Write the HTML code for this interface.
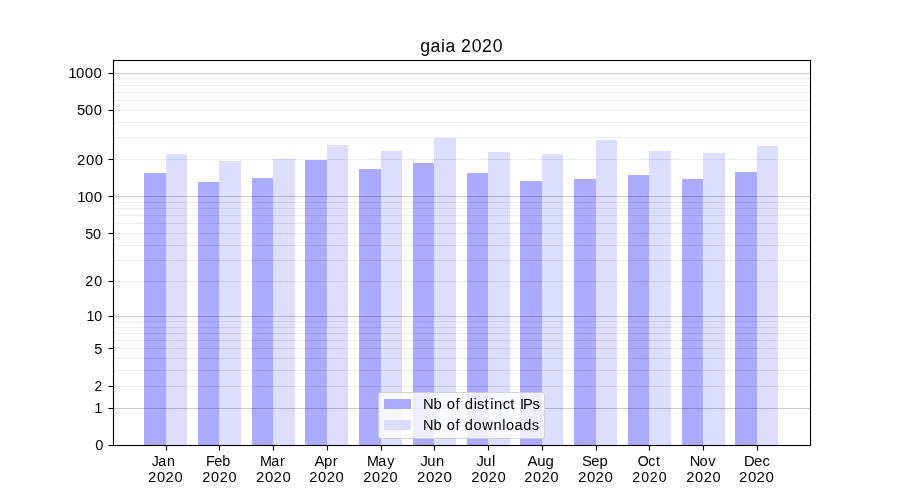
<!DOCTYPE html>
<html lang="en"><head><meta charset="utf-8"><title>gaia 2020</title>
<style>html,body{margin:0;padding:0;background:#fff;overflow:hidden;}svg{display:block;}text{font-family:"Liberation Sans",sans-serif;fill:#000;white-space:pre;}.t{filter:grayscale(1);}</style></head>
<body>
<svg width="900" height="500" viewBox="0 0 900 500">
<rect x="0" y="0" width="900" height="500" fill="#fff"/>
<g shape-rendering="crispEdges">
<rect x="144" y="173" width="22" height="272" fill="#aaaaff"/>
<rect x="166" y="154" width="21" height="291" fill="#ddddff"/>
<rect x="198" y="182" width="21" height="263" fill="#aaaaff"/>
<rect x="219" y="161" width="22" height="284" fill="#ddddff"/>
<rect x="252" y="178" width="21" height="267" fill="#aaaaff"/>
<rect x="273" y="159" width="22" height="286" fill="#ddddff"/>
<rect x="305" y="160" width="22" height="285" fill="#aaaaff"/>
<rect x="327" y="145" width="21" height="300" fill="#ddddff"/>
<rect x="359" y="169" width="22" height="276" fill="#aaaaff"/>
<rect x="381" y="151" width="21" height="294" fill="#ddddff"/>
<rect x="413" y="163" width="21" height="282" fill="#aaaaff"/>
<rect x="434" y="138" width="22" height="307" fill="#ddddff"/>
<rect x="467" y="173" width="21" height="272" fill="#aaaaff"/>
<rect x="488" y="152" width="22" height="293" fill="#ddddff"/>
<rect x="520" y="181" width="22" height="264" fill="#aaaaff"/>
<rect x="542" y="154" width="21" height="291" fill="#ddddff"/>
<rect x="574" y="179" width="22" height="266" fill="#aaaaff"/>
<rect x="596" y="140" width="21" height="305" fill="#ddddff"/>
<rect x="628" y="175" width="21" height="270" fill="#aaaaff"/>
<rect x="649" y="151" width="22" height="294" fill="#ddddff"/>
<rect x="682" y="179" width="21" height="266" fill="#aaaaff"/>
<rect x="703" y="153" width="22" height="292" fill="#ddddff"/>
<rect x="735" y="172" width="22" height="273" fill="#aaaaff"/>
<rect x="757" y="146" width="21" height="299" fill="#ddddff"/>
<rect x="114" y="386" width="696" height="1" fill="#000" fill-opacity="0.07"/>
<rect x="114" y="370" width="696" height="1" fill="#000" fill-opacity="0.07"/>
<rect x="114" y="358" width="696" height="1" fill="#000" fill-opacity="0.07"/>
<rect x="114" y="348" width="696" height="1" fill="#000" fill-opacity="0.07"/>
<rect x="114" y="340" width="696" height="1" fill="#000" fill-opacity="0.07"/>
<rect x="114" y="333" width="696" height="1" fill="#000" fill-opacity="0.07"/>
<rect x="114" y="327" width="696" height="1" fill="#000" fill-opacity="0.07"/>
<rect x="114" y="321" width="696" height="1" fill="#000" fill-opacity="0.07"/>
<rect x="114" y="281" width="696" height="1" fill="#000" fill-opacity="0.07"/>
<rect x="114" y="260" width="696" height="1" fill="#000" fill-opacity="0.07"/>
<rect x="114" y="245" width="696" height="1" fill="#000" fill-opacity="0.07"/>
<rect x="114" y="233" width="696" height="1" fill="#000" fill-opacity="0.07"/>
<rect x="114" y="223" width="696" height="1" fill="#000" fill-opacity="0.07"/>
<rect x="114" y="215" width="696" height="1" fill="#000" fill-opacity="0.07"/>
<rect x="114" y="208" width="696" height="1" fill="#000" fill-opacity="0.07"/>
<rect x="114" y="202" width="696" height="1" fill="#000" fill-opacity="0.07"/>
<rect x="114" y="159" width="696" height="1" fill="#000" fill-opacity="0.07"/>
<rect x="114" y="137" width="696" height="1" fill="#000" fill-opacity="0.07"/>
<rect x="114" y="122" width="696" height="1" fill="#000" fill-opacity="0.07"/>
<rect x="114" y="110" width="696" height="1" fill="#000" fill-opacity="0.07"/>
<rect x="114" y="100" width="696" height="1" fill="#000" fill-opacity="0.07"/>
<rect x="114" y="92" width="696" height="1" fill="#000" fill-opacity="0.07"/>
<rect x="114" y="85" width="696" height="1" fill="#000" fill-opacity="0.07"/>
<rect x="114" y="78" width="696" height="1" fill="#000" fill-opacity="0.07"/>
<rect x="114" y="408" width="696" height="1" fill="#000" fill-opacity="0.2"/>
<rect x="114" y="316" width="696" height="1" fill="#000" fill-opacity="0.2"/>
<rect x="114" y="196" width="696" height="1" fill="#000" fill-opacity="0.2"/>
<rect x="114" y="73" width="696" height="1" fill="#000" fill-opacity="0.2"/>
</g>
<g fill="#000">
<rect x="108.5" y="444.945" width="4.5" height="1.11"/>
<rect x="108.5" y="407.945" width="4.5" height="1.11"/>
<rect x="108.5" y="385.945" width="4.5" height="1.11"/>
<rect x="108.5" y="347.945" width="4.5" height="1.11"/>
<rect x="108.5" y="315.945" width="4.5" height="1.11"/>
<rect x="108.5" y="280.945" width="4.5" height="1.11"/>
<rect x="108.5" y="232.945" width="4.5" height="1.11"/>
<rect x="108.5" y="195.945" width="4.5" height="1.11"/>
<rect x="108.5" y="158.945" width="4.5" height="1.11"/>
<rect x="108.5" y="109.945" width="4.5" height="1.11"/>
<rect x="108.5" y="72.945" width="4.5" height="1.11"/>
<rect x="165.945" y="446" width="1.11" height="4.5"/>
<rect x="218.945" y="446" width="1.11" height="4.5"/>
<rect x="272.945" y="446" width="1.11" height="4.5"/>
<rect x="326.945" y="446" width="1.11" height="4.5"/>
<rect x="380.945" y="446" width="1.11" height="4.5"/>
<rect x="433.945" y="446" width="1.11" height="4.5"/>
<rect x="487.945" y="446" width="1.11" height="4.5"/>
<rect x="541.945" y="446" width="1.11" height="4.5"/>
<rect x="595.945" y="446" width="1.11" height="4.5"/>
<rect x="648.945" y="446" width="1.11" height="4.5"/>
<rect x="702.945" y="446" width="1.11" height="4.5"/>
<rect x="756.945" y="446" width="1.11" height="4.5"/>
<rect x="112.945" y="59.945" width="1.11" height="386.110"/>
<rect x="809.945" y="59.945" width="1.11" height="386.110"/>
<rect x="112.945" y="59.945" width="698.110" height="1.11"/>
<rect x="112.945" y="444.945" width="698.110" height="1.11"/>
</g>
<g class="t">
<text y="466.00" font-size="14.22" x="151.68 158.19 166.88">Jan</text>
<text y="482.00" font-size="14.77" x="147.92 157.05 165.58 174.59">2020</text>
<text y="466.00" font-size="14.47" x="205.98 214.32 222.36">Feb</text>
<text y="482.00" font-size="14.47" x="202.14 210.90 219.80 228.56">2020</text>
<text y="466.00" font-size="14.32" x="259.91 271.36 280.10">Mar</text>
<text y="482.00" font-size="14.92" x="255.95 265.09 273.61 282.62">2020</text>
<text y="466.00" font-size="14.92" x="314.42 324.08 332.87">Apr</text>
<text y="482.00" font-size="14.72" x="309.20 317.96 326.85 335.61">2020</text>
<text y="466.00" font-size="14.32" x="366.89 378.33 387.36">May</text>
<text y="482.00" font-size="14.57" x="363.17 371.94 380.83 389.59">2020</text>
<text y="466.00" font-size="14.72" x="420.44 427.30 435.90">Jun</text>
<text y="482.00" font-size="15.02" x="416.94 426.07 434.59 443.60">2020</text>
<text y="466.00" font-size="14.77" x="476.60 483.21 492.03">Jul</text>
<text y="482.00" font-size="14.77" x="471.19 480.07 488.60 497.61">2020</text>
<text y="466.00" font-size="14.97" x="527.48 537.16 545.54">Aug</text>
<text y="482.00" font-size="14.47" x="524.16 532.92 541.82 550.58">2020</text>
<text y="466.00" font-size="14.82" x="581.94 591.22 599.59">Sep</text>
<text y="482.00" font-size="15.02" x="577.95 587.08 595.60 604.61">2020</text>
<text y="466.00" font-size="14.12" x="637.68 648.13 656.10">Oct</text>
<text y="482.00" font-size="14.12" x="632.13 641.14 649.79 658.80">2020</text>
<text y="466.00" font-size="14.67" x="689.70 699.48 708.36">Nov</text>
<text y="482.00" font-size="14.57" x="686.19 694.95 703.85 712.61">2020</text>
<text y="466.00" font-size="14.82" x="743.88 753.98 762.53">Dec</text>
<text y="482.00" font-size="15.02" x="738.96 748.09 756.61 765.62">2020</text>
<text y="450.00" font-size="14.72" x="95.15">0</text>
<text y="413.00" font-size="14.72" x="94.15">1</text>
<text y="391.00" font-size="13.72" x="94.44">2</text>
<text y="354.00" font-size="14.52" x="94.35">5</text>
<text y="321.00" font-size="14.27" x="86.48 94.26">10</text>
<text y="286.00" font-size="14.27" x="85.14 94.15">20</text>
<text y="239.00" font-size="14.47" x="85.28 93.05">50</text>
<text y="202.00" font-size="15.12" x="77.13 85.04 93.87">100</text>
<text y="165.00" font-size="14.92" x="77.01 86.02 94.85">200</text>
<text y="115.00" font-size="14.72" x="76.90 85.03 93.85">500</text>
<text y="78.00" font-size="15.02" x="68.21 76.12 84.82 93.52">1000</text>
<text y="52.00" font-size="17.67" x="420.29 430.38 441.11 445.43 455.56 461.01 471.81 481.91 492.71">gaia 2020</text>
</g>
<rect x="378.5" y="392.5" width="166" height="46" rx="2.5" ry="2.5" fill="#fff" fill-opacity="0.8" stroke="#ccc" stroke-opacity="0.8" stroke-width="1.11"/>
<rect x="384" y="399" width="27" height="10" fill="#aaaaff" shape-rendering="crispEdges"/>
<rect x="384" y="420" width="27" height="10" fill="#ddddff" shape-rendering="crispEdges"/>
<g class="t">
<text y="409.00" font-size="14.77" x="423.08 433.48 442.16 446.71 455.62 459.94 464.82 473.70 476.92 484.38 490.23 494.11 502.79 510.34 515.40 520.06 523.10 532.46">Nb of distinct IPs</text>
<text y="430.00" font-size="14.62" x="422.98 433.38 442.26 446.85 455.50 460.04 464.71 473.44 482.14 493.46 502.19 505.93 514.40 523.24 531.85">Nb of downloads</text>
</g>
</svg>
</body></html>
